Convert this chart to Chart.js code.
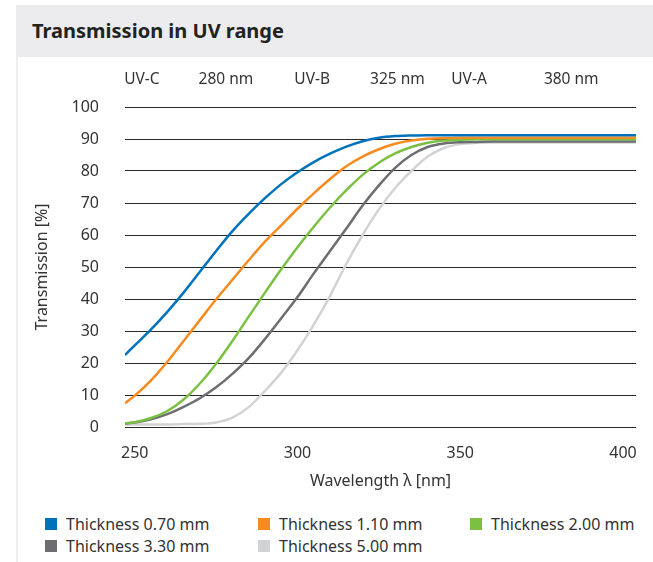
<!DOCTYPE html>
<html>
<head>
<meta charset="utf-8">
<script src="https://cdn.jsdelivr.net/npm/chart.js@4.4.0/dist/chart.umd.min.js"></script>
<style>
  body { margin: 0; width: 653px; height: 562px; background: #fff; position: relative; overflow: hidden;
         font-family: "Noto Sans", sans-serif; color: #333; }
  #head { position: absolute; left: 16px; top: 5px; width: 637px; height: 52px; background: #ececee; }
  #head h1 { margin: 0; position: absolute; left: 16px; top: 0; line-height: 52px; font-size: 20px; font-weight: bold; color: #222; }
  #side { position: absolute; left: 16px; top: 57px; width: 2px; height: 505px; background: #eeeef0; }
  #wrap { position: absolute; left: 0; top: 57px; width: 653px; height: 440px; }
  .item { position: absolute; font-size: 16px; line-height: 20px; white-space: nowrap; }
  .box { position: absolute; width: 12px; height: 12px; top: 4px; }
</style>
</head>
<body>
<div id="head"><h1>Transmission in UV range</h1></div>
<div id="side"></div>
<div id="wrap"><canvas id="myChart" width="653" height="440"></canvas></div>
<div id="legend"></div>
<script>
// valeurs
const wavelengths = [247, 250, 255, 260, 265, 270, 275, 280, 285, 290, 295, 300, 305, 310, 315,
                     320, 325, 330, 335, 340, 345, 350, 355, 360, 370, 380, 390, 400, 404];
const t070 = [22.5, 25.5, 30.5, 36.0, 42.0, 48.5, 55.0, 61.2, 66.6, 71.5, 75.9, 79.6, 82.8, 85.4, 87.6,
              89.3, 90.4, 90.9, 91.1, 91.2, 91.2, 91.2, 91.2, 91.2, 91.2, 91.2, 91.2, 91.2, 91.2];
const t110 = [7.4, 9.8, 14.6, 20.4, 26.9, 33.4, 39.9, 46.0, 52.1, 57.9, 63.0, 68.2, 73.0, 77.5, 81.5,
              84.5, 86.8, 88.5, 89.5, 90.1, 90.3, 90.4, 90.4, 90.4, 90.4, 90.4, 90.4, 90.4, 90.4];
const t200 = [1.1, 1.5, 2.8, 5.0, 8.6, 13.6, 19.8, 26.9, 34.5, 42.0, 49.3, 56.2, 62.6, 68.6, 74.0,
              78.8, 82.6, 85.5, 87.5, 88.8, 89.5, 89.8, 89.9, 89.9, 89.9, 89.9, 89.9, 89.9, 89.9];
const t330 = [1.1, 1.4, 2.4, 4.0, 6.3, 9.0, 12.4, 16.6, 21.5, 27.5, 34.0, 40.6, 48.0, 55.0, 62.0,
              69.2, 75.5, 81.0, 85.0, 87.5, 88.6, 89.0, 89.1, 89.2, 89.2, 89.2, 89.2, 89.2, 89.2];
const t500 = [0.8, 0.8, 0.8, 0.8, 0.9, 1.0, 1.4, 2.9, 6.2, 11.3, 17.0, 24.0, 32.0, 41.0, 51.0,
              60.0, 68.0, 74.7, 80.0, 84.5, 87.2, 88.4, 88.8, 88.9, 88.9, 88.9, 88.9, 88.9, 88.9];

const seriesLabels = ['Thickness 0.70 mm', 'Thickness 1.10 mm', 'Thickness 2.00 mm',
                      'Thickness 3.30 mm', 'Thickness 5.00 mm'];
const seriesValues = [t070, t110, t200, t330, t500];
const seriesColors = ['#0072bc', '#f68b1f', '#7ac143', '#6d6e71', '#d1d3d4'];

const xTicks = [250, 300, 350, 400];
const bandLabels = ['UV-C', '280 nm', 'UV-B', '325 nm', 'UV-A', '380 nm'];
const bandPos = [252.2, 278.0, 304.5, 330.7, 352.7, 384.1];

const font = { family: '"Noto Sans", sans-serif', size: 16 };
const fontTop = { family: '"Noto Sans", sans-serif', size: 15.5 };

const datasets = seriesValues.map((vals, i) => ({
  label: seriesLabels[i],
  data: vals.map((y, k) => ({ x: wavelengths[k], y: y })),
  borderColor: seriesColors[i],
  borderWidth: 2.5,
  pointRadius: 0,
  cubicInterpolationMode: 'monotone',
  fill: false
}));

new Chart(document.getElementById('myChart').getContext('2d'), {
  type: 'line',
  data: { datasets: datasets },
  options: {
    responsive: false,
    animation: false,
    layout: { padding: { left: 0, right: 17, top: 0, bottom: 0 } },
    plugins: { legend: { display: false }, tooltip: { enabled: false } },
    scales: {
      x: {
        type: 'linear', min: 247, max: 404,
        afterBuildTicks: s => { s.ticks = xTicks.map(v => ({ value: v })); },
        afterFit: s => { s.height = 70; },
        grid: { display: false },
        border: { display: false },
        ticks: { font: font, color: '#333', padding: 9, autoSkip: false, maxRotation: 0 },
        title: { display: true, text: 'Wavelength λ [nm]', font: font, color: '#333', padding: { top: 0, bottom: 6 } }
      },
      top: {
        type: 'linear', position: 'top', min: 247, max: 404,
        afterBuildTicks: s => { s.ticks = bandPos.map(v => ({ value: v })); },
        afterFit: s => { s.height = 50; },
        grid: { display: false },
        border: { display: false },
        ticks: { font: fontTop, color: '#333', padding: 10, autoSkip: false, maxRotation: 0,
                 callback: (v, i) => bandLabels[i] }
      },
      y: {
        min: 0, max: 100,
        afterFit: s => { s.width = 125; },
        grid: { color: '#2a2a2a', lineWidth: 1, drawTicks: false },
        border: { display: false },
        ticks: { stepSize: 10, font: font, color: '#333', padding: 26 },
        title: { display: true, text: 'Transmission [%]', font: font, color: '#333', padding: { top: 33, bottom: 0 } }
      }
    }
  }
});

// légende en HTML, trois colonnes
const legend = document.getElementById('legend');
const colLeft = [45, 258, 470];
seriesLabels.forEach((lab, i) => {
  const it = document.createElement('div');
  it.className = 'item';
  it.style.left = colLeft[i % 3] + 'px';
  it.style.top = (514 + Math.floor(i / 3) * 22) + 'px';
  it.style.paddingLeft = '21px';
  it.innerHTML = '<span class="box" style="left:0;background:' + seriesColors[i] + '"></span>' + lab;
  legend.appendChild(it);
});
</script>
</body>
</html>
